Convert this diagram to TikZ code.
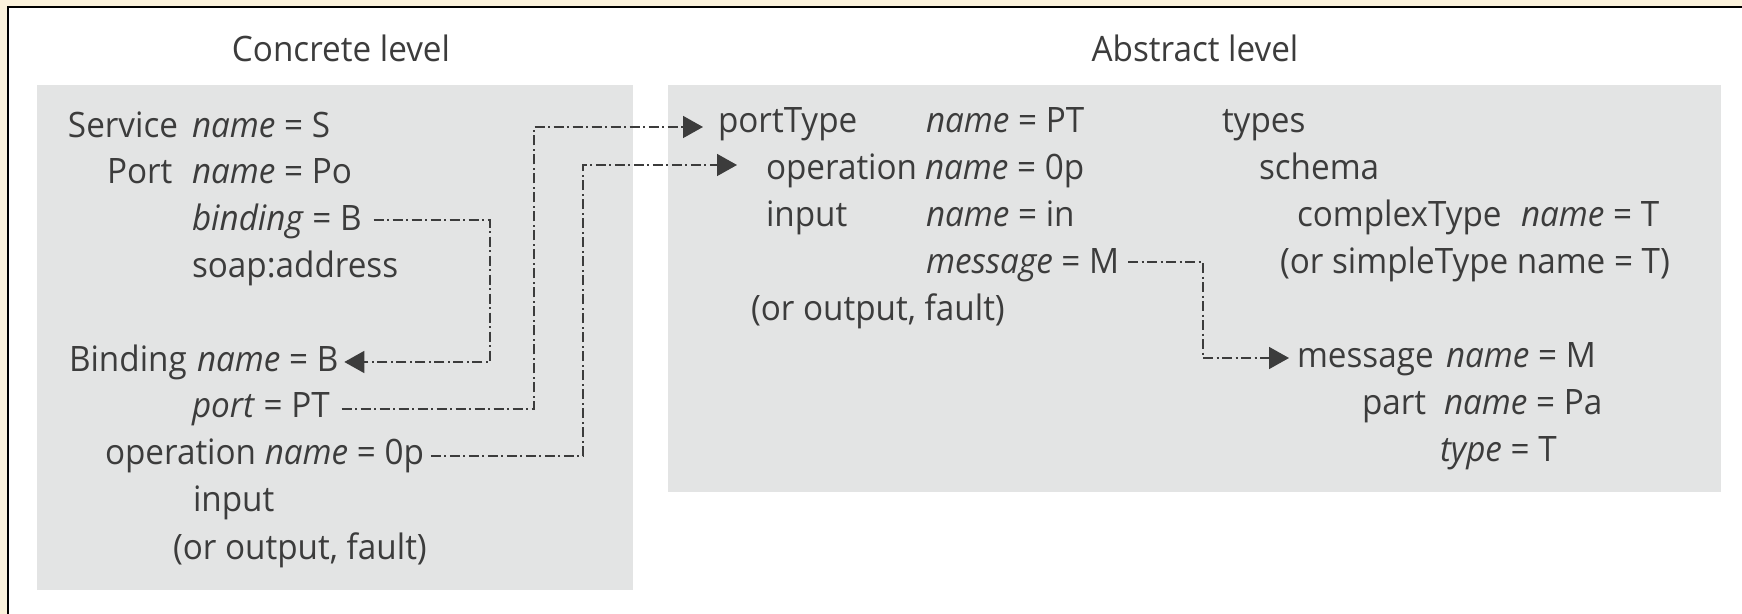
\documentclass[tikz,border=0pt]{standalone}
\usepackage{fontspec}
\setmainfont[FakeStretch=0.95]{Open Sans}
\usetikzlibrary{arrows.meta}
\definecolor{ink}{HTML}{3C3C3C}
\definecolor{panel}{HTML}{E3E4E4}
\definecolor{cream}{HTML}{FBF2DC}
\tikzset{
  txt/.style={anchor=base west, inner sep=0pt, outer sep=0pt, text=ink,
    font=\fontsize{17.5pt}{21pt}\selectfont},
  heading/.style={txt, anchor=base},
  link/.style={draw=ink, line width=0.8pt,
    dash pattern=on 5pt off 1.75pt on 1pt off 1.75pt,
    -{Triangle[length=10pt,width=11pt]}},
}
\begin{document}
\begin{tikzpicture}[x=0.5pt,y=-0.5pt]
\useasboundingbox (0,0) rectangle (1742,614);
% page frame
\fill[cream] (0,0) rectangle (1742,614);
\fill[white] (8,7) rectangle (1742,614);
\draw[line width=1pt, black] (8,614) -- (8,7) -- (1742,7);
% the two levels
\fill[panel] (37,85) rectangle (633,590);
\fill[panel] (668,85) rectangle (1721,492);
\node[heading] (conc) at (341,62) {Concrete level};
\node[heading] (abst) at (1195,62) {Abstract level};

% concrete level
\node[txt] (svc)      at (68,138)  {Service};
\node[txt] (svcname)  at (192,138) {\textit{name} = S};
\node[txt] (port)     at (107,184) {Port};
\node[txt] (portname) at (192,184) {\textit{name} = Po};
\node[txt] (bindattr) at (192,231) {\textit{binding} = B};
\node[txt] (soap)     at (192,278) {soap:address};
\node[txt] (binding)  at (69,372)  {Binding};
\node[txt] (bindname) at (197,372) {\textit{name} = B};
\node[txt] (portattr) at (192,418) {\textit{port} = PT};
\node[txt] (copname)  at (105,465) {operation \textit{name} = 0p};
\node[txt] (cinput)   at (193,512) {input};
\node[txt] (cor)      at (173,560) {(or output, fault)};

% abstract level
\node[txt] (ptype)    at (718,133)  {portType};
\node[txt] (ptname)   at (926,133)  {\textit{name} = PT};
\node[txt] (types)    at (1222,133) {types};
\node[txt] (aop)      at (766,180)  {operation};
\node[txt] (aopname)  at (925,180)  {\textit{name} = 0p};
\node[txt] (schema)   at (1259,180) {schema};
\node[txt] (ainput)   at (766,227)  {input};
\node[txt] (inname)   at (926,227)  {\textit{name} = in};
\node[txt] (ctype)    at (1297,227) {complexType};
\node[txt] (ctname)   at (1521,227) {\textit{name} = T};
\node[txt] (msgattr)  at (926,274)  {\textit{message} = M};
\node[txt] (stype)    at (1280,274) {(or simpleType name = T)};
\node[txt] (aor)      at (751,321)  {(or output, fault)};
\node[txt] (msg)      at (1297,368) {message};
\node[txt] (msgname)  at (1446,368) {\textit{name} = M};
\node[txt] (part)     at (1362,415) {part};
\node[txt] (partname) at (1444,415) {\textit{name} = Pa};
\node[txt] (ptattr)   at (1440,462) {\textit{type} = T};

% connector end points and turning columns
\coordinate (bindOut) at ([xshift=6pt,yshift=5.5pt]bindattr.base east);
\coordinate (bindIn)  at ([xshift=3pt,yshift=5pt]bindname.base east);
\coordinate (portOut) at ([xshift=6pt,yshift=4.5pt]portattr.base east);
\coordinate (ptIn)    at ([xshift=-7.5pt,yshift=3pt]ptype.base west);
\coordinate (opOut)   at ([xshift=3.5pt,yshift=4.5pt]copname.base east);
\coordinate (opIn)    at ([xshift=-14.5pt,yshift=7.5pt]aop.base west);
\coordinate (msgOut)  at ([xshift=4.5pt,yshift=6pt]msgattr.base east);
\coordinate (msgIn)   at ([xshift=-4pt,yshift=5pt]msg.base west);
\coordinate (k1) at (490,300);
\coordinate (k2) at (534,300);
\coordinate (k3) at (583,300);
\coordinate (k4) at (1203,300);

% references
\draw[link] (bindOut) -| (k1 |- bindIn) -- (bindIn);
\draw[link] (portOut) -| (k2 |- ptIn) -- (ptIn);
\draw[link] (opOut) -| (k3 |- opIn) -- (opIn);
\draw[link] (msgOut) -| (k4 |- msgIn) -- (msgIn);
\end{tikzpicture}
\end{document}
